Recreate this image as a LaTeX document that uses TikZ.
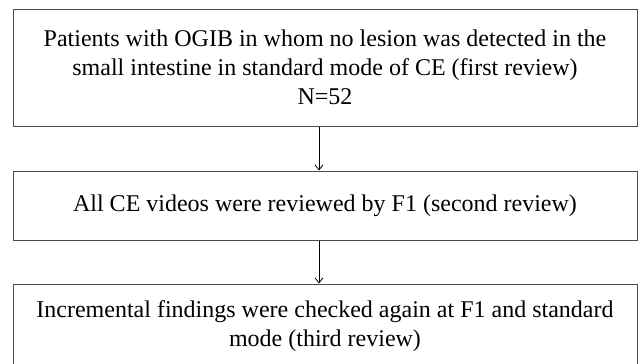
\documentclass[tikz,border=0pt]{standalone}
\usepackage{fontspec}
\setmainfont{Liberation Serif}
\usetikzlibrary{arrows.meta}
\tikzset{
    stagebox/.style={draw=black!70,line width=1pt,align=center,inner sep=0pt,
        minimum width=624pt,font=\fontsize{24}{29}\selectfont},
    flowarrow/.style={-{Straight Barb[length=5pt,width=8pt]},line width=0.8pt}
}
\begin{document}
\begin{tikzpicture}[x=1pt,y=1pt]
        \useasboundingbox (0,0) rectangle (638,-364);
        %% Review stages
        \node[stagebox,minimum height=117pt] (first) at (325,-67.5)
            {Patients with OGIB in whom no lesion was detected in the\\
             small intestine in standard mode of CE (first review)\\ N=52};
        \node[stagebox,minimum height=69pt] (second) at (325,-205.5)
            {All CE videos were reviewed by F1 (second review)};
        \node[stagebox,minimum height=85pt] (third) at (325,-326.5)
            {Incremental findings were checked again at F1 and standard\\
             mode (third review)};
        %% Arrows
        \draw[flowarrow] ([xshift=-6pt]first.south) -- ([xshift=-6pt]second.north);
        \draw[flowarrow] ([xshift=-6pt]second.south) -- ([xshift=-6pt]third.north);
    \end{tikzpicture}
\end{document}
